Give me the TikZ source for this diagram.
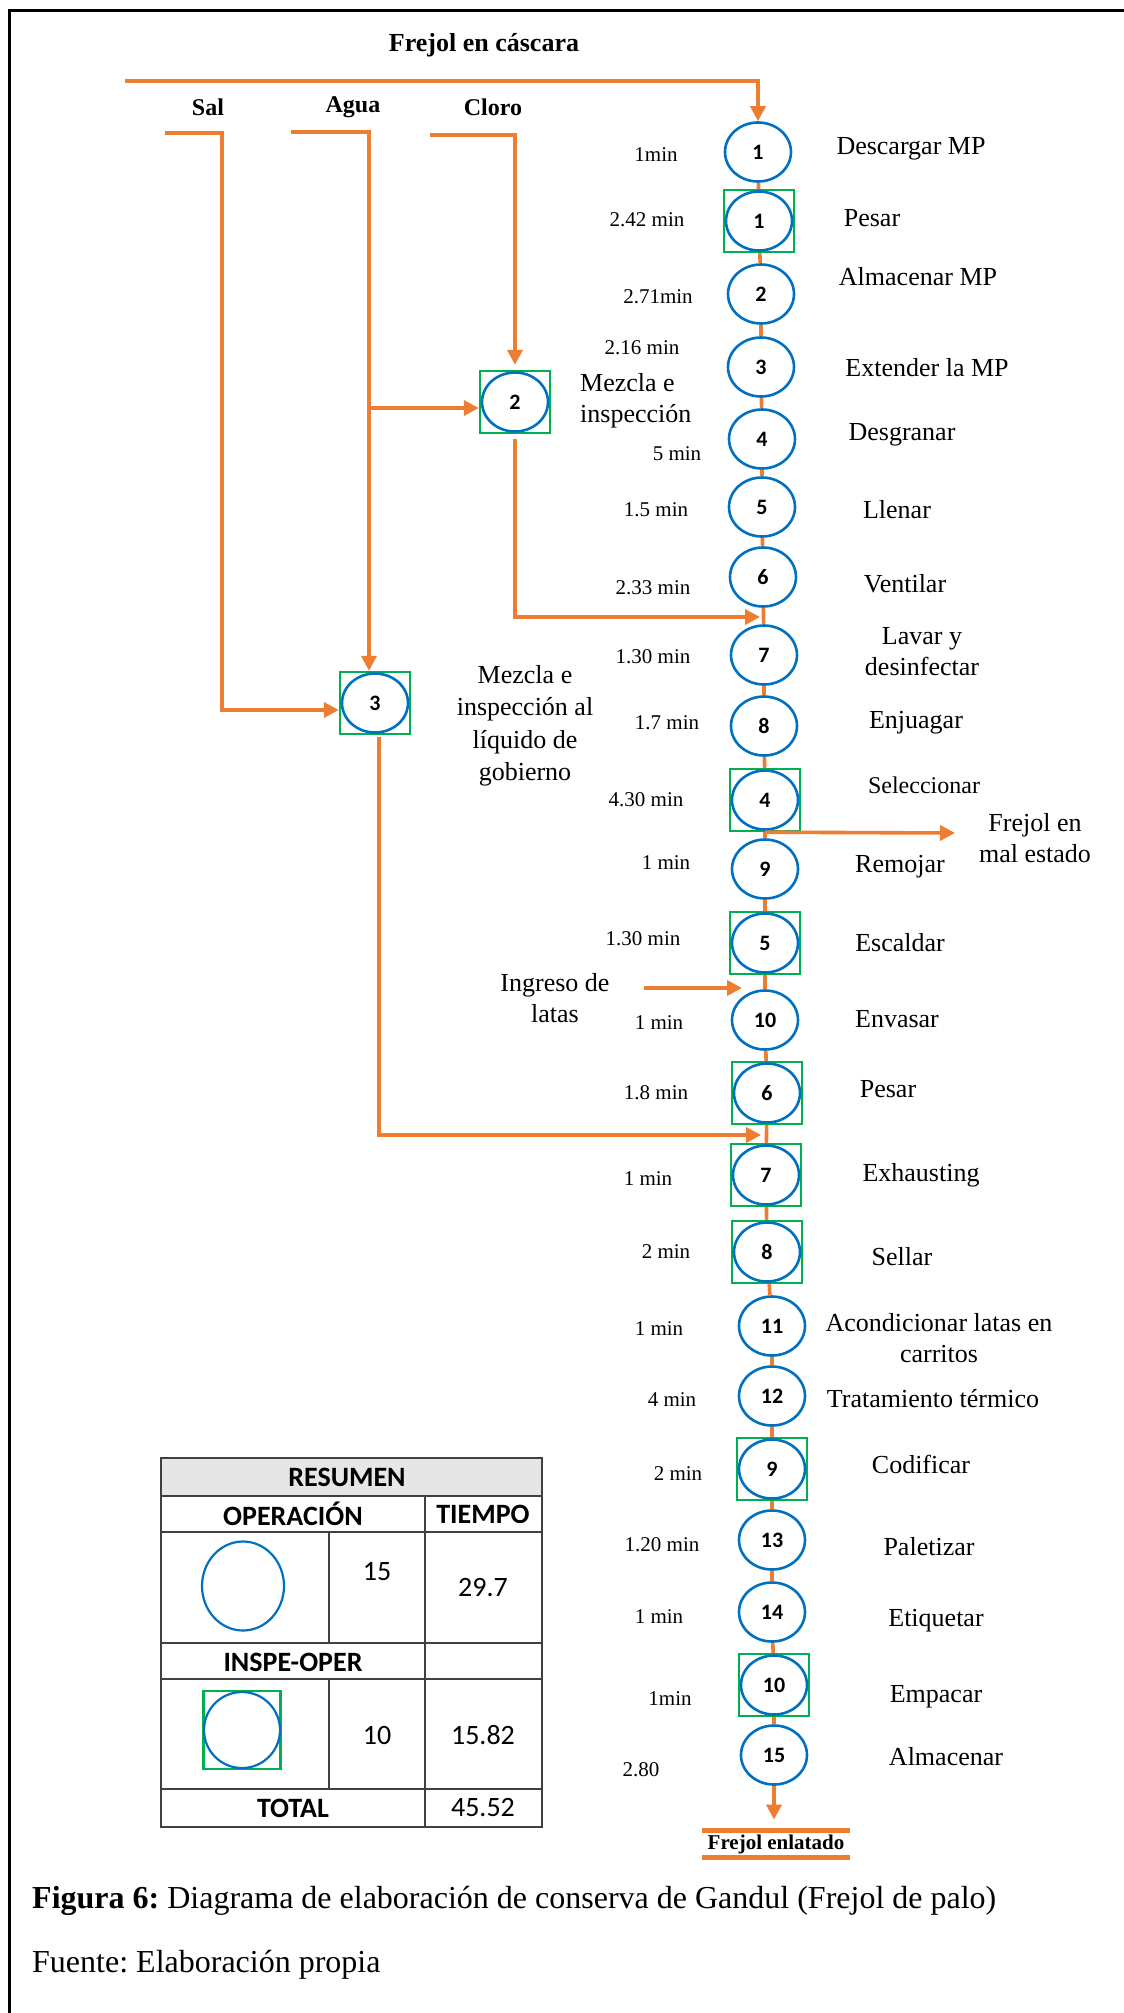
\documentclass[tikz,border=0pt]{standalone}
\usepackage{fontspec}
\setmainfont{Liberation Serif}
\newfontfamily\calib{Carlito}
\usetikzlibrary{arrows.meta,shapes.geometric}
\definecolor{orng}{HTML}{ED7D31}
\definecolor{blu}{HTML}{0070C0}
\definecolor{grn}{HTML}{00B050}
\definecolor{hdr}{HTML}{E7E6E6}
\definecolor{tbl}{HTML}{404040}
\frenchspacing
\begin{document}
\begin{tikzpicture}[x=1pt,y=-1pt,
  op/.style={ellipse,draw=blu,line width=2.6pt,fill=white,minimum width=66pt,minimum height=59pt,inner sep=0pt,font=\calib\bfseries\fontsize{22}{22}\selectfont},
  inspbox/.style={rectangle,draw=grn,line width=2.4pt,minimum width=70pt,minimum height=62pt,inner sep=0pt},
  flow/.style={draw=orng,line width=3.6pt},
  arr/.style={flow,-{Triangle[length=15pt,width=15pt]}},
  lab/.style={inner sep=0pt,font=\fontsize{26}{31}\selectfont},
  tim/.style={inner sep=0pt,font=\fontsize{21}{25}\selectfont},
  hd/.style={inner sep=0pt,font=\bfseries\fontsize{24}{28}\selectfont},
  tb/.style={inner sep=0pt,font=\calib\fontsize{28}{32}\selectfont},
  tbb/.style={inner sep=0pt,font=\calib\bfseries\fontsize{28}{32}\selectfont},
  tline/.style={draw=tbl,line width=1.6pt}
]
\useasboundingbox (0,0) rectangle (1124,2013);
% frame
\draw[line width=3pt] (9,2013) -- (9,10) -- (1124,10);

% main column nodes
\node[op] (o1) at (758,152) {1};
\node[inspbox] (i1) at (759,221) {};
\node[op] (i1c) at (i1) {1};
\node[op] (o2) at (761,294) {2};
\node[op] (o3) at (761,367) {3};
\node[op] (o4) at (762,439) {4};
\node[op] (o5) at (762,507) {5};
\node[op] (o6) at (763,577) {6};
\node[op] (o7) at (764,655) {7};
\node[op] (o8) at (764,726) {8};
\node[inspbox] (i4) at (765,800) {};
\node[op] (i4c) at (i4) {4};
\node[op] (o9) at (765,869) {9};
\node[inspbox] (i5) at (765,943) {};
\node[op] (i5c) at (i5) {5};
\node[op] (o10) at (765,1020) {10};
\node[inspbox] (i6) at (767,1093) {};
\node[op] (i6c) at (i6) {6};
\node[inspbox] (i7) at (766,1175) {};
\node[op] (i7c) at (i7) {7};
\node[inspbox] (i8) at (767,1252) {};
\node[op] (i8c) at (i8) {8};
\node[op] (o11) at (772,1326) {11};
\node[op] (o12) at (772,1396) {12};
\node[inspbox] (i9) at (772,1469) {};
\node[op] (i9c) at (i9) {9};
\node[op] (o13) at (772,1540) {13};
\node[op] (o14) at (772,1612) {14};
\node[inspbox] (i10) at (774,1685) {};
\node[op] (i10c) at (i10) {10};
\node[op] (o15) at (774,1755) {15};

% side inspections
\node[inspbox] (i2) at (515,402) {};
\node[op] (i2c) at (i2) {2};
\node[inspbox] (i3) at (375,703) {};
\node[op] (i3c) at (i3) {3};

% main chain
\draw[flow] (o1) -- (i1) -- (o2) -- (o3) -- (o4) -- (o5) -- (o6) -- (o7) -- (o8) -- (i4) -- (o9) -- (i5) -- (o10) -- (i6) -- (i7) -- (i8) -- (o11) -- (o12) -- (i9) -- (o13) -- (o14) -- (i10) -- (o15);

% top input
\node[inner sep=0pt,font=\bfseries\fontsize{26}{30}\selectfont] (fc) at (484,45) {Frejol en cáscara};
\coordinate (fstart) at (125,81);
\draw[arr] (fstart) -| (o1.north);

% Sal, Agua, Cloro
\node[hd] (sal) at (208,107) {Sal};
\node[hd] (agua) at (353,107) {Agua};
\node[hd] (cloro) at (493,107) {Cloro};
\coordinate (salA) at (165,133);
\coordinate (salB) at (222,133);
\coordinate (aguaA) at (291,132);
\coordinate (aguaB) at (369,132);
\coordinate (clA) at (430,135);
\coordinate (clB) at (515,135);
\coordinate (i2in) at ([yshift=-6pt]i2.west);
\coordinate (i3in) at ([yshift=-7pt]i3.west);
\draw[arr] (salA) -- (salB) |- (i3in);
\draw[arr] (aguaA) -- (aguaB) -- (aguaB |- i3.north);
\draw[arr] (aguaB |- i2in) -- (i2in);
\draw[arr,shorten >=5pt] (clA) -- (clB) -- (clB |- i2.north);

% side returns to main line
\coordinate (m1) at (760,617);
\coordinate (m2) at (761,1135);
\coordinate (i3out) at ([xshift=4pt]i3.south);
\draw[arr,shorten <=5pt] (i2.south) |- (m1);
\draw[arr,shorten <=2pt] (i3out) |- (m2);

% reject and cans
\coordinate (rej) at (955,833);
\draw[arr] (i4.south) -- (rej);
\node[lab,align=center] (rejt) at (1035,838) {Frejol en\\mal estado};
\node[lab,align=center] (lat) at (555,998) {Ingreso de\\latas};
\coordinate (lat0) at (644,988);
\coordinate (lat1) at (742,988);
\draw[arr] (lat0) -- (lat1);

% side labels
\node[lab,align=left,anchor=west] (mz1) at (580,401) {Mezcla e\\inspección};
\node[inner sep=0pt,align=center,font=\fontsize{26}{32.5}\selectfont] (mz2) at (525,726) {Mezcla e\\inspección al\\líquido de\\gobierno};

% output
\node[inner sep=0pt,minimum width=148pt,minimum height=26.5pt,font=\bfseries\fontsize{21}{24}\selectfont] (fe) at (776,1844) {Frejol enlatado};
\draw[draw=orng,line width=5.5pt] (fe.north west) -- (fe.north east);
\draw[draw=orng,line width=5.5pt] (fe.south west) -- (fe.south east);
\draw[arr,shorten >=11pt] (o15) -- (o15 |- fe.north);

% activity labels
\node[lab] at (911,149) {Descargar MP};
\node[lab] at (872,218) {Pesar};
\node[lab] at (918,277) {Almacenar MP};
\node[lab] at (927,368) {Extender la MP};
\node[lab] at (902,435) {Desgranar};
\node[lab] at (897,510) {Llenar};
\node[lab] at (905,584) {Ventilar};
\node[lab,align=center] at (922,652) {Lavar y\\desinfectar};
\node[lab] at (916,723) {Enjuagar};
\node[inner sep=0pt,font=\fontsize{24}{28}\selectfont] at (924,785) {Seleccionar};
\node[lab] at (900,867) {Remojar};
\node[lab] at (900,943) {Escaldar};
\node[lab] at (897,1019) {Envasar};
\node[lab] at (888,1089) {Pesar};
\node[lab] at (921,1175) {Exhausting};
\node[lab] at (902,1257) {Sellar};
\node[lab,align=center] at (939,1338) {Acondicionar latas en\\carritos};
\node[lab] at (933,1399) {Tratamiento térmico};
\node[lab] at (921,1464) {Codificar};
\node[lab] at (929,1547) {Paletizar};
\node[lab] at (936,1621) {Etiquetar};
\node[lab] at (936,1697) {Empacar};
\node[lab] at (946,1757) {Almacenar};

% time labels
\node[tim] at (656,155) {1min};
\node[tim] at (647,220) {2.42 min};
\node[tim] at (658,297) {2.71min};
\node[tim] at (642,348) {2.16 min};
\node[tim] at (677,454) {5 min};
\node[tim] at (656,510) {1.5 min};
\node[tim] at (653,588) {2.33 min};
\node[tim] at (653,657) {1.30 min};
\node[tim] at (667,723) {1.7 min};
\node[tim] at (646,800) {4.30 min};
\node[tim] at (666,863) {1 min};
\node[tim] at (643,939) {1.30 min};
\node[tim] at (659,1023) {1 min};
\node[tim] at (656,1093) {1.8 min};
\node[tim] at (648,1179) {1 min};
\node[tim] at (666,1252) {2 min};
\node[tim] at (659,1329) {1 min};
\node[tim] at (672,1400) {4 min};
\node[tim] at (678,1474) {2 min};
\node[tim] at (662,1545) {1.20 min};
\node[tim] at (659,1617) {1 min};
\node[tim] at (670,1699) {1min};
\node[tim] at (641,1770) {2.80};

% summary table
\fill[hdr] (161,1458) rectangle (542,1496);
\draw[tline] (161,1458) rectangle (542,1827);
\draw[tline] (161,1496) -- (542,1496);
\draw[tline] (161,1532) -- (542,1532);
\draw[tline] (161,1643) -- (542,1643);
\draw[tline] (161,1679) -- (542,1679);
\draw[tline] (161,1789) -- (542,1789);
\draw[tline] (425,1496) -- (425,1827);
\draw[tline] (329,1532) -- (329,1643);
\draw[tline] (329,1679) -- (329,1789);
\node[tbb] at (347,1477) {RESUMEN};
\node[tbb] at (293,1514) {OPERACIÓN};
\node[tbb] at (483,1514) {TIEMPO};
\node[ellipse,draw=blu,line width=2.2pt,minimum width=82pt,minimum height=89pt,inner sep=0pt] (tabop) at (243,1586) {};
\node[tb] at (377,1572) {15};
\node[tb] at (483,1588) {29.7};
\node[tbb] at (293,1662) {INSPE-OPER};
\node[rectangle,draw=grn,line width=2.2pt,minimum width=77pt,minimum height=78pt,inner sep=0pt] (tabin) at (242,1730) {};
\node[ellipse,draw=blu,line width=2.2pt,minimum width=76pt,minimum height=76pt,inner sep=0pt] (tabinc) at (242,1730) {};
\node[tb] at (377,1735) {10};
\node[tb] at (483,1735) {15.82};
\node[tbb] at (293,1808) {TOTAL};
\node[tb] at (483,1808) {45.52};

% caption
\node[anchor=west,inner sep=0pt,font=\fontsize{32}{38}\selectfont] (cap) at (32,1901) {\textbf{Figura 6:} Diagrama de elaboración de conserva de Gandul (Frejol de palo)};
\node[anchor=west,inner sep=0pt,font=\fontsize{32}{38}\selectfont] (src) at (32,1965) {Fuente: Elaboración propia};
\end{tikzpicture}
\end{document}
